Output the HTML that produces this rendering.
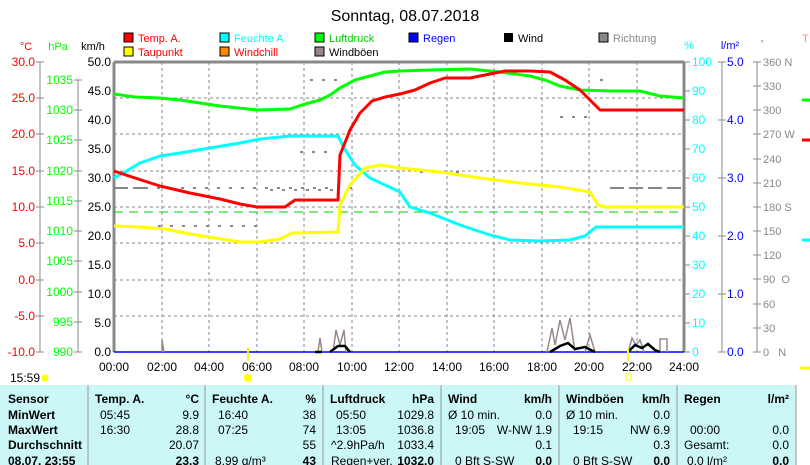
<!DOCTYPE html>
<html><head><meta charset="utf-8"><style>
body{margin:0;background:#fff;width:810px;height:465px;overflow:hidden}
svg{display:block;font-family:"Liberation Sans",sans-serif}
</style></head><body>
<svg width="810" height="465" viewBox="0 0 810 465">
<rect width="810" height="465" fill="#fff"/>
<text x="405" y="21" font-size="16" text-anchor="middle">Sonntag, 08.07.2018</text>
<g font-size="11">
<rect x="124" y="33" width="9" height="9" fill="#f00" stroke="#000"/><text x="138" y="42" fill="#f00">Temp. A.</text>
<rect x="220" y="33" width="9" height="9" fill="#0ff" stroke="#000"/><text x="234" y="42" fill="#0ff">Feuchte A.</text>
<rect x="315" y="33" width="9" height="9" fill="#0f0" stroke="#000"/><text x="329" y="42" fill="#0c0">Luftdruck</text>
<rect x="409" y="33" width="9" height="9" fill="#00f" stroke="#000"/><text x="423" y="42" fill="#00f">Regen</text>
<rect x="504" y="33" width="9" height="9" fill="#000"/><text x="518" y="42">Wind</text>
<rect x="599" y="33" width="9" height="9" fill="#888" stroke="#000"/><text x="613" y="42" fill="#888">Richtung</text>
<rect x="124" y="47" width="9" height="9" fill="#ff0" stroke="#000"/><text x="138" y="56" fill="#f00">Taupunkt</text>
<rect x="220" y="47" width="9" height="9" fill="#f80" stroke="#000"/><text x="234" y="56" fill="#f00">Windchill</text>
<rect x="315" y="47" width="9" height="9" fill="#988" stroke="#000"/><text x="329" y="56">Windböen</text>
<text x="26" y="50" fill="#f00" text-anchor="middle">°C</text>
<text x="58" y="50" fill="#0f0" text-anchor="middle">hPa</text>
<text x="93" y="50" text-anchor="middle">km/h</text>
<text x="689" y="49" fill="#0ff" text-anchor="middle">%</text>
<text x="730" y="49" fill="#00f" text-anchor="middle">l/m²</text>
<text x="762" y="46" fill="#888" text-anchor="middle" font-size="8">°</text>
<text x="802" y="42" fill="#f88">T</text>
</g>
<g stroke="#888" stroke-dasharray="3,3" stroke-width="1">
<path d="M114 98H684M114 134H684M114 171H684M114 207H684M114 243H684M114 280H684M114 316H684"/>
<path d="M162 62V352M209 62V352M257 62V352M304 62V352M352 62V352M399 62V352M447 62V352M494 62V352M542 62V352M589 62V352M637 62V352"/>
</g>
<path d="M114 62V352M684 62V352M114 62H684" stroke="#888" stroke-width="3" fill="none"/>
<path d="M114 212H684" stroke="#0c0" stroke-dasharray="9,6" stroke-width="1"/>
<g stroke="#888" fill="none">
<path d="M40 62V352M78 80V352"/>
<path d="M36 62H44M36 98H44M36 134H44M36 171H44M36 207H44M36 243H44M36 280H44M36 316H44M36 352H44"/>
<path d="M74 80H82M74 110H82M74 140H82M74 171H82M74 201H82M74 231H82M74 261H82M74 292H82M74 322H82M74 352H82"/>
<path d="M684 62H690M684 91H690M684 120H690M684 149H690M684 178H690M684 207H690M684 236H690M684 265H690M684 294H690M684 323H690M684 352H690"/>
<path d="M722 62V352M718 62H726M718 120H726M718 178H726M718 236H726M718 294H726M718 352H726"/>
<path d="M757 62V352M753 62H761M753 86H761M753 110H761M753 134H761M753 159H761M753 183H761M753 207H761M753 231H761M753 255H761M753 279H761M753 304H761M753 328H761M753 352H761"/>
</g>
<g font-size="12" text-anchor="end">
<g fill="#f00"><text x="35" y="66">30.0</text><text x="35" y="102">25.0</text><text x="35" y="138">20.0</text><text x="35" y="175">15.0</text><text x="35" y="211">10.0</text><text x="35" y="247">5.0</text><text x="35" y="284">0.0</text><text x="35" y="320">-5.0</text><text x="35" y="356">-10.0</text></g>
<g fill="#0f0"><text x="73" y="84">1035</text><text x="73" y="114">1030</text><text x="73" y="144">1025</text><text x="73" y="175">1020</text><text x="73" y="205">1015</text><text x="73" y="235">1010</text><text x="73" y="265">1005</text><text x="73" y="296">1000</text><text x="73" y="326">995</text><text x="73" y="356">990</text></g>
<g><text x="111" y="66">50.0</text><text x="111" y="95">45.0</text><text x="111" y="124">40.0</text><text x="111" y="153">35.0</text><text x="111" y="182">30.0</text><text x="111" y="211">25.0</text><text x="111" y="240">20.0</text><text x="111" y="269">15.0</text><text x="111" y="298">10.0</text><text x="111" y="327">5.0</text><text x="111" y="356">0.0</text></g>
</g>
<g font-size="12" fill="#0ff"><text x="692" y="66">100</text><text x="692" y="95">90</text><text x="692" y="124">80</text><text x="692" y="153">70</text><text x="692" y="182">60</text><text x="692" y="211">50</text><text x="692" y="240">40</text><text x="692" y="269">30</text><text x="692" y="298">20</text><text x="692" y="327">10</text><text x="692" y="356">0</text></g>
<g font-size="12" fill="#00f"><text x="727" y="66">5.0</text><text x="727" y="124">4.0</text><text x="727" y="182">3.0</text><text x="727" y="240">2.0</text><text x="727" y="298">1.0</text><text x="727" y="356">0.0</text></g>
<g font-size="11" fill="#888"><text x="763" y="66">360 N</text><text x="763" y="90">330</text><text x="763" y="114">300</text><text x="763" y="138">270 W</text><text x="763" y="163">240</text><text x="763" y="187">210</text><text x="763" y="211">180 S</text><text x="763" y="235">150</text><text x="763" y="259">120</text><text x="763" y="283">90&#160;&#160;O</text><text x="763" y="308">60</text><text x="763" y="332">30</text><text x="763" y="356">0&#160;&#160;&#160;N</text></g>
<path d="M114 188H145M610 188H684" stroke="#888" stroke-width="2" stroke-dasharray="14,5"/>
<g stroke="#888" stroke-width="2" stroke-dasharray="3,9" fill="none">
<path d="M145 188H360M158 226H260M270 190H340M300 152H330M310 80H340M420 172H460M560 117H590M600 80H610"/>
</g>
<g fill="none" stroke-width="3" stroke-linejoin="round">
<polyline stroke="#0f0" points="114,94 135,97 160,98 180,100 200,103 220,106 257,110 290,109 305,104 320,100 330,95 340,88 355,80 370,76 385,72 400,71 430,70 470,69 500,72 530,76 545,80 560,86 580,90 610,91 640,91 660,96 684,98"/>
<polyline stroke="#0ff" points="114,178 125,172 140,163 160,156 180,153 210,148 240,143 260,139 280,137 290,136 338,136 344,148 355,165 370,178 385,185 400,192 410,207 430,213 460,225 490,235 510,240 540,241 570,240 585,236 596,227 684,227"/>
<polyline stroke="#ff0" points="114,226 140,227 165,229 190,234 215,238 240,242 260,242 280,239 292,233 338,232 340,205 350,185 365,168 380,165 400,168 440,172 480,178 520,183 560,187 590,192 598,205 605,207 684,207"/>
<polyline stroke="#f00" points="114,171 135,178 160,186 190,193 220,199 240,204 257,207 285,207 295,200 338,200 340,155 350,130 360,113 372,101 385,97 400,94 415,90 430,83 445,78 470,78 490,74 505,71 530,71 550,72 565,80 580,90 592,102 600,110 684,110"/>
</g>
<path d="M114 352H684" stroke="#00f" stroke-width="1.5"/>
<g fill="none" stroke="#988" stroke-width="1.5">
<path d="M162 352V340L164 352M318 352L320 338L322 352M333 352L336 330L340 345L344 330L346 352M547 352L552 328L555 345L560 320L565 340L570 318L575 352M585 352L590 335L595 352M628 352L632 338L636 345L640 340L644 352M660 352V339H667V352"/>
</g>
<g fill="none" stroke="#000" stroke-width="2.5">
<path d="M315 352H322M330 352L338 346L345 346L350 352M550 352L560 346L568 343L575 349L585 347L595 352M628 352L635 345L642 348L648 344L655 350L660 352"/>
</g>
<path d="M248 347V361M628 347V361" stroke="#ff0" stroke-width="2"/>
<g font-size="12" text-anchor="middle"><text x="114" y="371">00:00</text><text x="162" y="371">02:00</text><text x="209" y="371">04:00</text><text x="257" y="371">06:00</text><text x="304" y="371">08:00</text><text x="352" y="371">10:00</text><text x="399" y="371">12:00</text><text x="447" y="371">14:00</text><text x="494" y="371">16:00</text><text x="542" y="371">18:00</text><text x="589" y="371">20:00</text><text x="637" y="371">22:00</text><text x="684" y="371">24:00</text></g>
<text x="10" y="382" font-size="12">15:59</text>
<circle cx="45" cy="378" r="3.5" fill="#ff0"/>
<circle cx="248" cy="378" r="4" fill="#ff0"/>
<rect x="626" y="374" width="5" height="6" fill="none" stroke="#ff0"/>
<rect x="0" y="385" width="796" height="80" fill="#ccf7f7"/>
<path d="M88 385V465M205 385V465M323 385V465M441 385V465M559 385V465M677 385V465M796 385V465" stroke="#999"/>
<g font-size="12" font-weight="bold">
<text x="8" y="403">Sensor</text><text x="8" y="419">MinWert</text><text x="8" y="434">MaxWert</text><text x="8" y="449">Durchschnitt</text><text x="8" y="465">08.07. 23:55</text>
<text x="95" y="403">Temp. A.</text><text x="199" y="403" text-anchor="end">°C</text>
<text x="212" y="403">Feuchte A.</text><text x="316" y="403" text-anchor="end">%</text>
<text x="330" y="403">Luftdruck</text><text x="434" y="403" text-anchor="end">hPa</text>
<text x="448" y="403">Wind</text><text x="552" y="403" text-anchor="end">km/h</text>
<text x="566" y="403">Windböen</text><text x="670" y="403" text-anchor="end">km/h</text>
<text x="684" y="403">Regen</text><text x="789" y="403" text-anchor="end">l/m²</text>
<text x="199" y="465" text-anchor="end">23.3</text><text x="316" y="465" text-anchor="end">43</text><text x="434" y="465" text-anchor="end">1032.0</text><text x="552" y="465" text-anchor="end">0.0</text><text x="670" y="465" text-anchor="end">0.0</text><text x="789" y="465" text-anchor="end">0.0</text>
</g>
<g font-size="12">
<text x="100" y="419">05:45</text><text x="199" y="419" text-anchor="end">9.9</text>
<text x="100" y="434">16:30</text><text x="199" y="434" text-anchor="end">28.8</text>
<text x="199" y="449" text-anchor="end">20.07</text>
<text x="218" y="419">16:40</text><text x="316" y="419" text-anchor="end">38</text>
<text x="218" y="434">07:25</text><text x="316" y="434" text-anchor="end">74</text>
<text x="316" y="449" text-anchor="end">55</text>
<text x="215" y="465">8.99 g/m³</text>
<text x="336" y="419">05:50</text><text x="434" y="419" text-anchor="end">1029.8</text>
<text x="336" y="434">13:05</text><text x="434" y="434" text-anchor="end">1036.8</text>
<text x="331" y="449">^2.9hPa/h</text><text x="434" y="449" text-anchor="end">1033.4</text>
<text x="331" y="465">Regen+ver.</text>
<text x="448" y="419">Ø 10 min.</text><text x="552" y="419" text-anchor="end">0.0</text>
<text x="455" y="434">19:05</text><text x="552" y="434" text-anchor="end">W-NW 1.9</text>
<text x="552" y="449" text-anchor="end">0.1</text><text x="455" y="465">0 Bft S-SW</text>
<text x="566" y="419">Ø 10 min.</text><text x="670" y="419" text-anchor="end">0.0</text>
<text x="573" y="434">19:15</text><text x="670" y="434" text-anchor="end">NW 6.9</text>
<text x="670" y="449" text-anchor="end">0.3</text><text x="573" y="465">0 Bft S-SW</text>
<text x="690" y="434">00:00</text><text x="789" y="434" text-anchor="end">0.0</text>
<text x="684" y="449">Gesamt:</text><text x="789" y="449" text-anchor="end">0.0</text>
<text x="687" y="465">0.0 l/m²</text>
</g>
<path d="M802 140H810" stroke="#f00" stroke-width="3"/>
<path d="M802 240H810" stroke="#0ff" stroke-width="3"/>
<path d="M800 368H810" stroke="#ff0" stroke-width="3"/>
<path d="M802 100H810" stroke="#0f0" stroke-width="3"/>
</svg>
</body></html>
